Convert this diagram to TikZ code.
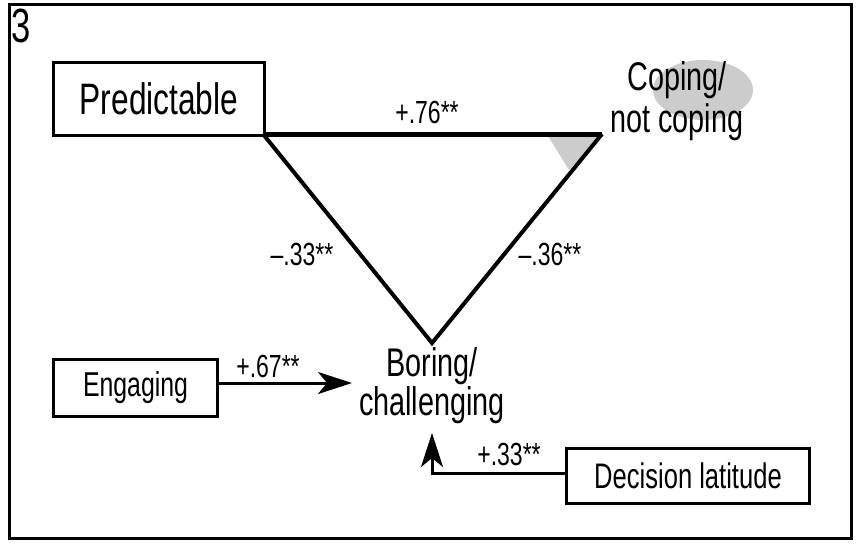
\documentclass[tikz,border=0pt]{standalone}
\usepackage{fontspec}
\setmainfont[FakeStretch=0.72]{Liberation Sans}
\usetikzlibrary{arrows.meta}
\begin{document}
\begin{tikzpicture}[x=1pt,y=-1pt,
  boxnode/.style={draw,line width=3pt,inner sep=0pt,anchor=north west},
  lbl/.style={font=\fontsize{32}{34}\selectfont,anchor=base,inner sep=0pt},
  tri/.style={line width=4pt,line join=miter},
  arr/.style={line width=3pt,-{Stealth[length=34pt,width=22pt,inset=9pt]}},
  big/.style={font=\fontsize{40}{44}\selectfont,align=center,inner sep=0pt}]
\useasboundingbox (0,0) rectangle (859,544);
\draw[line width=3pt] (9,4) rectangle (851,538);
\node[anchor=base west,inner sep=0pt,font=\fontsize{48}{50}\selectfont] (num) at (11,42) {3};
% gray decorations
\fill[gray!40] (703,90) ellipse [x radius=50, y radius=30];
\fill[gray!40] (548,136) -- (600,136) -- (569,170) -- cycle;
% boxes
\node[boxnode,minimum width=211pt,minimum height=73pt,font=\fontsize{44}{46}\selectfont] (pred) at (52,61) {Predictable};
\node[boxnode,minimum width=164pt,minimum height=57pt,font=\fontsize{34.5}{36}\selectfont] (eng) at (52,358) {Engaging};
\node[boxnode,minimum width=243pt,minimum height=55pt,font=\fontsize{35.5}{37}\selectfont] (dec) at (565,447) {Decision latitude};
% text nodes
\node[big,anchor=base] (cope1) at (677,90) {Coping/};
\node[big,anchor=base] (cope2) at (677,132) {not coping};
\node[big,anchor=base] (bore1) at (432,376) {Boring/};
\node[big,anchor=base] (bore2) at (432,415) {challenging};
% triangle
\coordinate (A) at (263,134);
\coordinate (B) at (602,134);
\coordinate (C) at (432,343);
\draw[line width=5pt] (A) -- (B);
\draw[tri] (A) -- (C) -- (B);
% arrows
\coordinate (engtip) at (352,383);
\draw[arr] (eng.east |- engtip) -- (engtip);
\coordinate (dectip) at (432,433);
\draw[arr] (dec.west |- 0,473) -- (432,473) -- (dectip);
% labels
\node[lbl] (l76) at (427,123) {+.76**};
\node[lbl] (l33a) at (302,265) {–.33**};
\node[lbl] (l36) at (550,265) {–.36**};
\node[lbl] (l67) at (268,377) {+.67**};
\node[lbl] (l33b) at (509,465) {+.33**};
\end{tikzpicture}
\end{document}
